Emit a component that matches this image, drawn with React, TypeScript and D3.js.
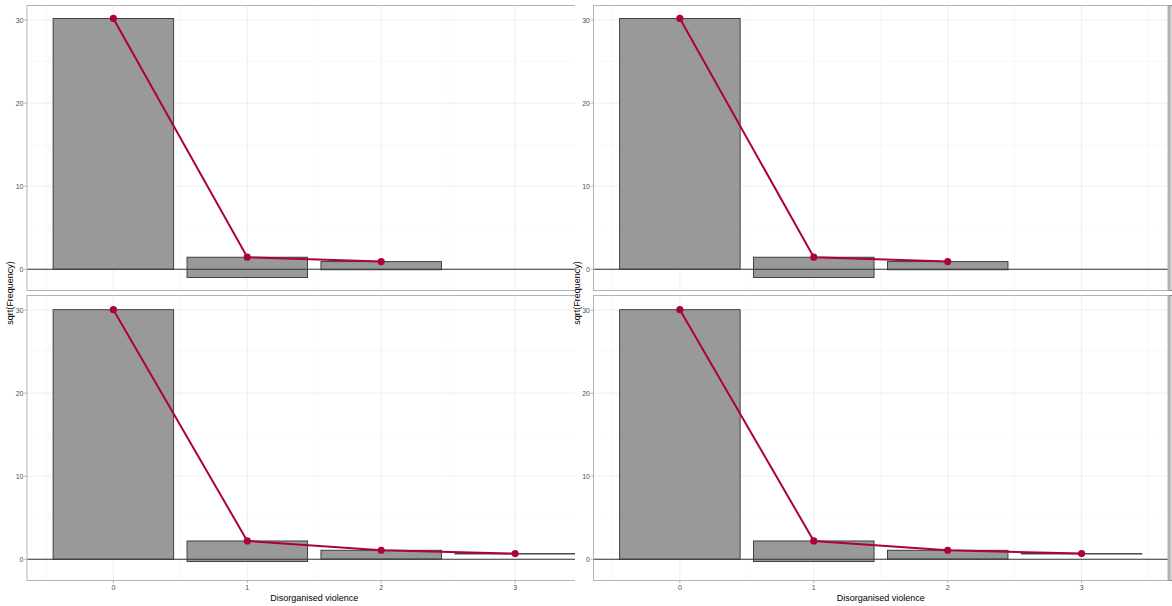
import React, { useEffect, useRef } from 'react';
import * as d3 from 'd3';

// counts of disorganised violence
const countsTop = [0, 1, 2];
const countsBottom = [0, 1, 2, 3];
// sqrt(expected) -> where bars hang from + red line
const expectedTop = [30.2, 1.45, 0.92];
const expectedBottom = [30.05, 2.2, 1.08, 0.68];
// sqrt(expected) - sqrt(observed) -> bar bottoms
const bottomTop = [0.0, -1.0, -0.06];
const bottomBottom = [0.0, -0.28, 0.02, 0.68];

const yTicks = [0, 10, 20, 30];
const yMinor = [5, 15, 25];
const xTicks = [0, 1, 2, 3];
const xMinor = [-0.5, 0.5, 1.5, 2.5, 3.5];

const RED = '#ad0040';
const W = 1172;
const H = 606;

interface Facet {
    counts: number[];
    expected: number[];
    bottoms: number[];
}

const facets: Facet[] = [
    { counts: countsTop, expected: expectedTop, bottoms: bottomTop },
    { counts: countsBottom, expected: expectedBottom, bottoms: bottomBottom },
];

export default function App() {
    const svgRef = useRef<SVGSVGElement>(null);

    useEffect(() => {
        const svg = d3.select(svgRef.current);
        svg.selectAll('*').remove();

        const allVals = [...expectedTop, ...expectedBottom, ...bottomTop, ...bottomBottom];
        const lo = d3.min(allVals) as number;
        const hi = d3.max(allVals) as number;
        const pad = (hi - lo) * 0.05;
        const yDomain = [lo - pad, hi + pad];

        const panelW = 574.5;
        const panelRows = [[5.5, 290.5], [295.5, 580.5]];
        const fontFam = '"Liberation Sans", Arial, sans-serif';

        svg.append('defs').append('clipPath').attr('id', 'leftclip')
            .append('rect').attr('x', 0).attr('y', 0).attr('width', 575).attr('height', H);

        const drawPlot = (g: d3.Selection<SVGGElement, unknown, null, undefined>, px0: number) => {
            const x = d3.scaleLinear().domain([-0.645, 3.645]).range([px0, px0 + panelW]);

            panelRows.forEach((row, fi) => {
                const f = facets[fi];
                const y = d3.scaleLinear().domain(yDomain).range([row[1], row[0]]);
                const p = g.append('g');

                p.append('rect').attr('x', px0).attr('y', row[0]).attr('width', panelW)
                    .attr('height', row[1] - row[0]).attr('fill', 'white');

                // grid
                p.selectAll('.ymin').data(yMinor).join('line')
                    .attr('x1', px0).attr('x2', px0 + panelW)
                    .attr('y1', d => y(d)).attr('y2', d => y(d))
                    .attr('stroke', '#f5f5f5').attr('stroke-width', 0.6);
                p.selectAll('.xmin').data(xMinor).join('line')
                    .attr('y1', row[0]).attr('y2', row[1])
                    .attr('x1', d => x(d)).attr('x2', d => x(d))
                    .attr('stroke', '#f5f5f5').attr('stroke-width', 0.6);
                p.selectAll('.ymaj').data(yTicks).join('line')
                    .attr('x1', px0).attr('x2', px0 + panelW)
                    .attr('y1', d => y(d)).attr('y2', d => y(d))
                    .attr('stroke', '#eeeeee').attr('stroke-width', 1);
                p.selectAll('.xmaj').data(xTicks).join('line')
                    .attr('y1', row[0]).attr('y2', row[1])
                    .attr('x1', d => x(d)).attr('x2', d => x(d))
                    .attr('stroke', '#eeeeee').attr('stroke-width', 1);

                // hanging bars
                p.selectAll('.bar').data(f.counts).join('rect')
                    .attr('x', d => x(d - 0.45))
                    .attr('width', x(0.45) - x(-0.45))
                    .attr('y', (d, i) => y(f.expected[i]))
                    .attr('height', (d, i) => Math.max(0.4, y(f.bottoms[i]) - y(f.expected[i])))
                    .attr('fill', '#999999').attr('stroke', '#333333').attr('stroke-width', 0.9);

                // zero line
                p.append('line').attr('x1', px0).attr('x2', px0 + panelW)
                    .attr('y1', y(0)).attr('y2', y(0))
                    .attr('stroke', '#333333').attr('stroke-width', 1.1);

                // expected line + points
                const line = d3.line<number>().x(d => x(d)).y((d, i) => y(f.expected[i]));
                p.append('path').attr('d', line(f.counts) as string)
                    .attr('fill', 'none').attr('stroke', RED).attr('stroke-width', 2);
                p.selectAll('.pt').data(f.counts).join('circle')
                    .attr('cx', d => x(d)).attr('cy', (d, i) => y(f.expected[i]))
                    .attr('r', 3.6).attr('fill', RED);

                // border
                p.append('rect').attr('x', px0).attr('y', row[0]).attr('width', panelW)
                    .attr('height', row[1] - row[0]).attr('fill', 'none')
                    .attr('stroke', '#b3b3b3').attr('stroke-width', 1);

                // strip (cut off at right)
                p.append('rect').attr('x', px0 + panelW + 1).attr('y', row[0])
                    .attr('width', 16).attr('height', row[1] - row[0])
                    .attr('fill', '#d0d0d0').attr('stroke', '#8c8c8c').attr('stroke-width', 1);

                // y axis
                yTicks.forEach(t => {
                    p.append('line').attr('x1', px0 - 2.7).attr('x2', px0)
                        .attr('y1', y(t)).attr('y2', y(t)).attr('stroke', '#b3b3b3');
                    p.append('text').attr('x', px0 - 3.5).attr('y', y(t))
                        .attr('dy', '0.35em').attr('text-anchor', 'end')
                        .attr('font-size', 7).attr('font-family', fontFam)
                        .attr('fill', '#4d4d4d').text(t);
                });
            });

            // x axis
            xTicks.forEach(t => {
                g.append('line').attr('x1', x(t)).attr('x2', x(t))
                    .attr('y1', 580.5).attr('y2', 583.2).attr('stroke', '#b3b3b3');
                g.append('text').attr('x', x(t)).attr('y', 590)
                    .attr('text-anchor', 'middle').attr('font-size', 7)
                    .attr('font-family', fontFam).attr('fill', '#4d4d4d').text(t);
            });

            g.append('text').attr('x', px0 + panelW / 2).attr('y', 601)
                .attr('text-anchor', 'middle').attr('font-size', 9)
                .attr('font-family', fontFam).attr('fill', 'black')
                .text('Disorganised violence');

            g.append('text')
                .attr('transform', `translate(${px0 - 14},293) rotate(-90)`)
                .attr('text-anchor', 'middle').attr('font-size', 9)
                .attr('font-family', fontFam).attr('fill', 'black')
                .text('sqrt(Frequency)');
        };

        const left = svg.append('g').attr('clip-path', 'url(#leftclip)');
        left.append('rect').attr('width', 575).attr('height', H).attr('fill', 'white');
        drawPlot(left, 27);

        const right = svg.append('g');
        drawPlot(right, 593.5);
    }, []);

    return (
        <svg ref={svgRef} width={W} height={H}
            style={{ position: 'absolute', left: 0, top: 0, background: 'white' }} />
    );
}
